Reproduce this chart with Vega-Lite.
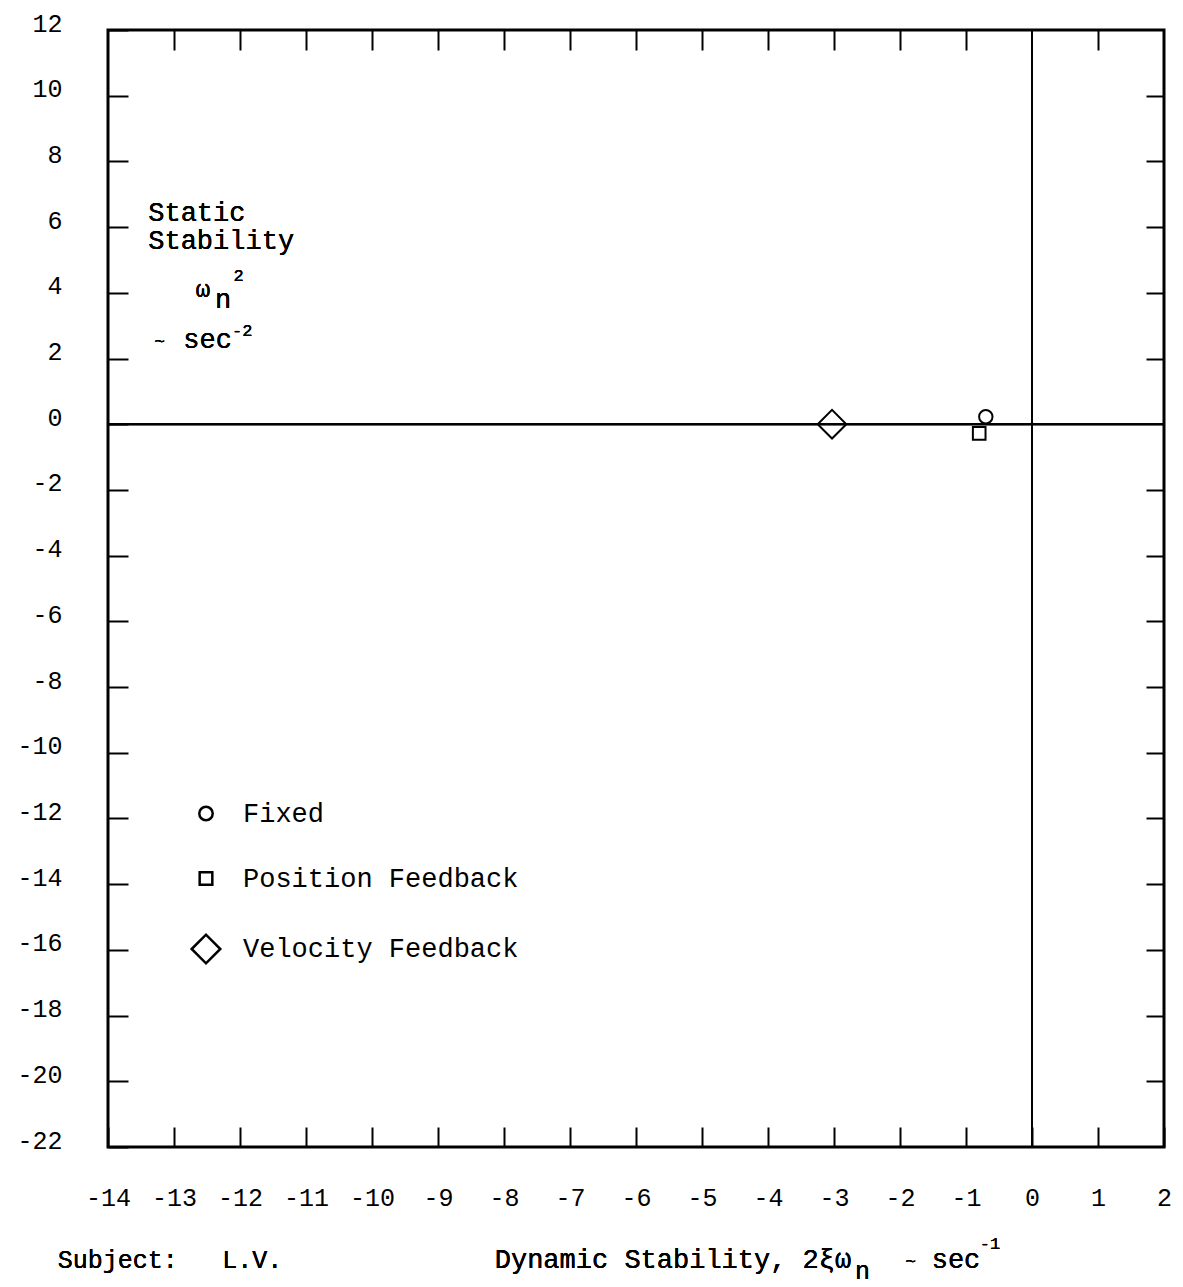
{
  "$schema": "https://vega.github.io/schema/vega-lite/v6.json",
  "width": 1056,
  "height": 1117,
  "autosize": "none",
  "padding": {"left": 108, "top": 30, "right": 19, "bottom": 140},
  "background": "white",
  "config": {
    "view": {"stroke": "black", "strokeWidth": 3},
    "font": "Liberation Mono",
    "axis": {
      "grid": false,
      "domain": false,
      "tickColor": "black",
      "tickWidth": 2,
      "tickSize": -20,
      "labelColor": "black",
      "labelFont": "Liberation Mono",
      "labelFontSize": 25,
      "labelOverlap": false,
      "labelFlush": false,
      "labelExpr": "replace(datum.label, '−', '-')",
      "title": null
    },
    "text": {"font": "Liberation Mono", "color": "black", "align": "left", "baseline": "middle"}
  },
  "data": {
    "values": [
      {"series": "Fixed", "damping": -0.70, "stiffness": 0.23},
      {"series": "Position Feedback", "damping": -0.80, "stiffness": -0.28},
      {"series": "Velocity Feedback", "damping": -3.03, "stiffness": 0.0}
    ]
  },
  "resolve": {"axis": {"x": "independent", "y": "independent"}},
  "layer": [
    {
      "mark": {"type": "rule", "color": "black", "strokeWidth": 2},
      "encoding": {
        "x": {"datum": 0, "type": "quantitative", "scale": {"domain": [-14, 2], "nice": false, "zero": false},
              "axis": {"orient": "top", "labels": false, "values": [-13, -12, -11, -10, -9, -8, -7, -6, -5, -4, -3, -2, -1, 1]}}
      }
    },
    {
      "mark": {"type": "rule", "color": "black", "strokeWidth": 2},
      "encoding": {
        "y": {"datum": 0, "type": "quantitative", "scale": {"domain": [-22, 12], "nice": false, "zero": false},
              "axis": {"orient": "right", "labels": false, "tickSize": -18, "values": [-20, -18, -16, -14, -12, -10, -8, -6, -4, -2, 2, 4, 6, 8, 10]}}
      }
    },
    {
      "mark": {"type": "point", "color": "black", "filled": false, "strokeWidth": 2, "opacity": 1},
      "encoding": {
        "x": {"field": "damping", "type": "quantitative",
              "axis": {"orient": "bottom", "labelPadding": 58, "values": [-14, -13, -12, -11, -10, -9, -8, -7, -6, -5, -4, -3, -2, -1, 0, 1, 2]}},
        "y": {"field": "stiffness", "type": "quantitative",
              "axis": {"orient": "left", "labelPadding": 66, "labelOffset": -7, "values": [-22, -20, -18, -16, -14, -12, -10, -8, -6, -4, -2, 0, 2, 4, 6, 8, 10, 12]}},
        "shape": {"field": "series", "type": "nominal",
                  "scale": {"domain": ["Fixed", "Position Feedback", "Velocity Feedback"], "range": ["circle", "square", "diamond"]},
                  "legend": {"title": null, "orient": "none", "legendX": 82, "legendY": 770, "labelFont": "Liberation Mono", "labelFontSize": 27, "labelColor": "black", "labelLimit": 0, "rowPadding": 37, "labelOffset": 21, "symbolStrokeColor": "black", "symbolStrokeWidth": 2.5}},
        "size": {"field": "series", "type": "nominal",
                 "scale": {"type": "ordinal", "domain": ["Fixed", "Position Feedback", "Velocity Feedback"], "range": [180, 160, 820]}}
      }
    },
    {"mark": {"type": "text", "text": "Static", "fontSize": 27}, "encoding": {"x": {"datum": -13.39, "axis": null}, "y": {"datum": 6.43, "axis": null}}},
    {"mark": {"type": "text", "text": "Stability", "fontSize": 27}, "encoding": {"x": {"datum": -13.39, "axis": null}, "y": {"datum": 5.58, "axis": null}}},
    {"mark": {"type": "text", "text": "ω", "fontSize": 24}, "encoding": {"x": {"datum": -12.67, "axis": null}, "y": {"datum": 4.09, "axis": null}}},
    {"mark": {"type": "text", "text": "n", "fontSize": 27}, "encoding": {"x": {"datum": -12.38, "axis": null}, "y": {"datum": 3.78, "axis": null}}},
    {"mark": {"type": "text", "text": "2", "fontSize": 17}, "encoding": {"x": {"datum": -12.1, "axis": null}, "y": {"datum": 4.51, "axis": null}}},
    {"mark": {"type": "text", "text": "~", "fontSize": 18}, "encoding": {"x": {"datum": -13.3, "axis": null}, "y": {"datum": 2.5, "axis": null}}},
    {"mark": {"type": "text", "text": "sec", "fontSize": 27}, "encoding": {"x": {"datum": -12.86, "axis": null}, "y": {"datum": 2.56, "axis": null}}},
    {"mark": {"type": "text", "text": "-2", "fontSize": 17}, "encoding": {"x": {"datum": -12.12, "axis": null}, "y": {"datum": 2.85, "axis": null}}},
    {"mark": {"type": "text", "text": "Subject:", "fontSize": 25}, "encoding": {"x": {"datum": -14.76, "axis": null}, "y": {"datum": -25.44, "axis": null}}},
    {"mark": {"type": "text", "text": "L.V.", "fontSize": 25}, "encoding": {"x": {"datum": -12.27, "axis": null}, "y": {"datum": -25.44, "axis": null}}},
    {"mark": {"type": "text", "text": "Dynamic Stability, 2ξω", "fontSize": 27}, "encoding": {"x": {"datum": -8.14, "axis": null}, "y": {"datum": -25.44, "axis": null}}},
    {"mark": {"type": "text", "text": "n", "fontSize": 25}, "encoding": {"x": {"datum": -2.68, "axis": null}, "y": {"datum": -25.76, "axis": null}}},
    {"mark": {"type": "text", "text": "~", "fontSize": 18}, "encoding": {"x": {"datum": -1.92, "axis": null}, "y": {"datum": -25.5, "axis": null}}},
    {"mark": {"type": "text", "text": "sec", "fontSize": 27}, "encoding": {"x": {"datum": -1.52, "axis": null}, "y": {"datum": -25.44, "axis": null}}},
    {"mark": {"type": "text", "text": "-1", "fontSize": 17}, "encoding": {"x": {"datum": -0.79, "axis": null}, "y": {"datum": -24.96, "axis": null}}}
  ]
}
